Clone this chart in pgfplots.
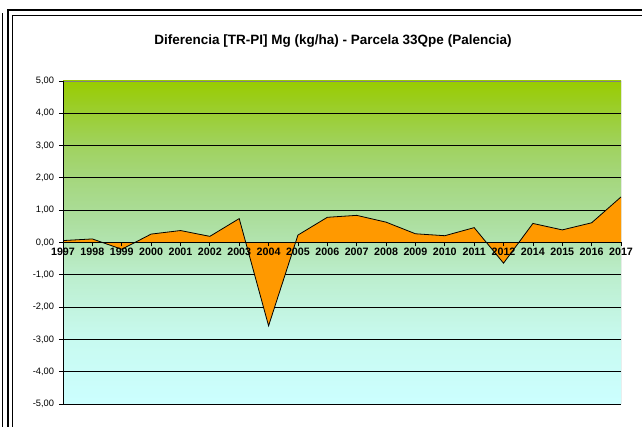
\documentclass[border=0pt]{standalone}
\usepackage{fontspec}
\setmainfont{Liberation Sans}
\usepackage{pgfplots}
\pgfplotsset{compat=1.18}
\definecolor{areaorange}{RGB}{255,153,0}
\pgfdeclareverticalshading{bgshade}{100bp}{
  rgb(0bp)=(0.800,1.000,1.000);
  rgb(25bp)=(0.800,1.000,1.000);
  rgb(35bp)=(0.784,0.980,0.941);
  rgb(45bp)=(0.737,0.933,0.804);
  rgb(50bp)=(0.698,0.894,0.690);
  rgb(55bp)=(0.667,0.863,0.588);
  rgb(60bp)=(0.647,0.843,0.490);
  rgb(65bp)=(0.627,0.824,0.373);
  rgb(70bp)=(0.608,0.808,0.196);
  rgb(75bp)=(0.600,0.800,0.000);
  rgb(100bp)=(0.600,0.800,0.000)}
\pgfplotsset{
  common/.style={
    at={(63pt,23pt)}, anchor=south west,
    scale only axis, width=558pt, height=323pt,
    xmin=0, xmax=19, ymin=-5, ymax=5,
    axis x line*=middle, axis y line*=left,
    hide obscured x ticks=false, hide obscured y ticks=false,
    xtick={0,...,19},
    ytick={-5,-4,-3,-2,-1,0,1,2,3,4,5},
    tick align=outside,
    tick style={black, line width=0.8pt},
    axis line style={black, line width=0.8pt},
  }
}
\begin{document}
\begin{tikzpicture}[x=1pt,y=1pt]
\useasboundingbox (0,0) rectangle (642,427);
\fill[white] (0,0) rectangle (642,427);
% outer frame lines
\draw[line width=0.8pt] (2.7,0) -- (2.7,414);
\draw[line width=2pt] (8.3,0) -- (8.3,417) -- (642,417);
\draw[line width=0.8pt] (12,0) -- (12,412) -- (642,412);
\node[font=\bfseries\fontsize{13.5}{16}\selectfont, anchor=base] at (333,382.7) {Diferencia [TR-PI] Mg (kg/ha) - Parcela 33Qpe (Palencia)};
% first axis: background, grid, data
\begin{axis}[
  common,
  axis background/.style={shade, shading=bgshade},
  xticklabels={}, yticklabels={},
  major tick length=0pt,
  ymajorgrids, grid style={black, line width=0.8pt},
]
\addplot[fill=areaorange, draw=none] coordinates {
(0,0.06) (1,0.11) (2,-0.21) (3,0.26) (4,0.37) (5,0.19) (6,0.74) (7,-2.58) (8,0.23) (9,0.78)
(10,0.84) (11,0.63) (12,0.27) (13,0.21) (14,0.46) (15,-0.64) (16,0.59) (17,0.39) (18,0.61) (19,1.41)
} \closedcycle;
\addplot[black, line width=0.8pt] coordinates {
(0,0.06) (1,0.11) (2,-0.21) (3,0.26) (4,0.37) (5,0.19) (6,0.74) (7,-2.58) (8,0.23) (9,0.78)
(10,0.84) (11,0.63) (12,0.27) (13,0.21) (14,0.46) (15,-0.64) (16,0.59) (17,0.39) (18,0.61) (19,1.41)
};
\draw[black!50, line width=0.8pt] (rel axis cs:0,1) -- (rel axis cs:1,1) -- (rel axis cs:1,0) -- (rel axis cs:0,0);
\end{axis}
% second axis: axis lines, ticks and labels on top
\begin{axis}[
  common,
  major tick length=4pt,
  xticklabels={1997,1998,1999,2000,2001,2002,2003,2004,2005,2006,2007,2008,2009,2010,2011,2012,2014,2015,2016,2017},
  /pgf/number format/assume math mode=true,
  yticklabel style={font=\fontsize{9.3}{11}\selectfont, xshift=-1.5pt, /pgf/number format/.cd, fixed, fixed zerofill, precision=2, use comma},
  xticklabel style={font=\bfseries\fontsize{10.7}{12}\selectfont, inner sep=1pt},
]
\end{axis}
\end{tikzpicture}
\end{document}
